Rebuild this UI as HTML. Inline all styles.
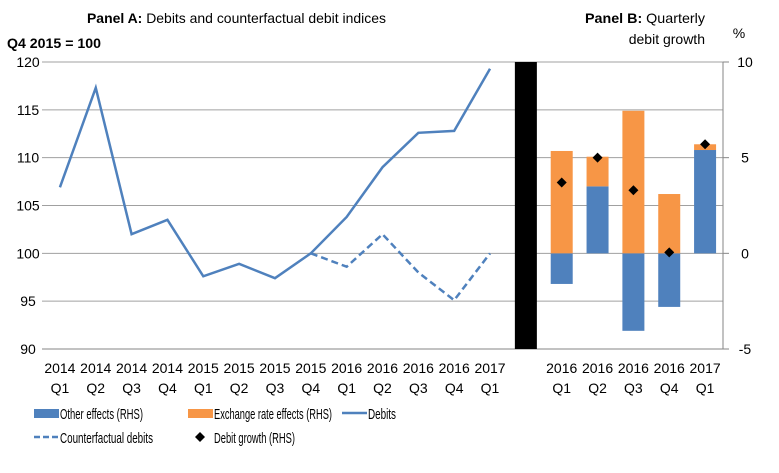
<!DOCTYPE html>
<html><head><meta charset="utf-8"><style>
body{margin:0;background:#fff}
svg text{font-family:"Liberation Sans",sans-serif;fill:#000}
</style></head><body>
<svg id="c" width="779" height="468"></svg>
<script>
const leftCats=[["2014","Q1"],["2014","Q2"],["2014","Q3"],["2014","Q4"],["2015","Q1"],["2015","Q2"],["2015","Q3"],["2015","Q4"],["2016","Q1"],["2016","Q2"],["2016","Q3"],["2016","Q4"],["2017","Q1"]];
const debits=[106.9,117.3,102,103.5,97.6,98.9,97.4,100,103.8,109,112.6,112.8,119.3];
const counterfactual=[null,null,null,null,null,null,null,100,98.6,102,98,95.1,100];
const rightCats=[["2016","Q1"],["2016","Q2"],["2016","Q3"],["2016","Q4"],["2017","Q1"]];
const otherEffects=[-1.6,3.5,-4.05,-2.8,5.4];
const exchangeEffects=[5.35,1.55,7.45,3.1,0.3];
const debitGrowth=[3.7,5.0,3.3,0.05,5.7];
const leftTicks=[90,95,100,105,110,115,120];
const rightTicks=[-5,0,5,10];

const NS="http://www.w3.org/2000/svg";
const svg=document.getElementById('c');
function el(t,a,txt){const e=document.createElementNS(NS,t);for(const k in a)e.setAttribute(k,a[k]);if(txt!=null)e.textContent=txt;svg.appendChild(e);return e;}
const X0=42,X1=723,TOP=62,BOT=349,N=19,slot=(X1-X0)/N;
const xs=i=>X0+slot*(i+0.5);
const yL=v=>BOT-(v-90)/30*(BOT-TOP);
const yR=v=>BOT-(v+5)/15*(BOT-TOP);

leftTicks.forEach(t=>{
 let g=el('line',{x1:X0,x2:X1,y1:yL(t),y2:yL(t),stroke:t===90?'#868686':'#a0a0a0','stroke-width':1});
 
 let l=el('text',{x:28,y:yL(t)+5,'font-size':14,'text-anchor':'middle'},t);
 
});
rightTicks.forEach(t=>{
 let g=el('line',{x1:X1,x2:X1+6,y1:yR(t),y2:yR(t),stroke:'#868686'});
 
 let l=el('text',{x:745,y:yR(t)+5,'font-size':14,'text-anchor':'middle'},t);
 
});
let ax=el('line',{x1:X1,x2:X1,y1:TOP,y2:BOT,stroke:'#868686'});


let sep=el('rect',{x:xs(13)-11,y:TOP,width:22,height:BOT-TOP,fill:'#000'});


const bw=22;
rightCats.forEach((c,i)=>{
 const x=xs(14+i)-bw/2;
 const o=otherEffects[i],e=exchangeEffects[i];
 let r=el('rect',{x:x,y:Math.min(yR(0),yR(o)),width:bw,height:Math.abs(yR(o)-yR(0)),fill:'#4f81bd'});
 
 const base=o>0?o:0;
 let r2=el('rect',{x:x,y:yR(base+e),width:bw,height:yR(base)-yR(base+e),fill:'#f79646'});
 
});
debitGrowth.forEach((v,i)=>{
 const cx=xs(14+i),cy=yR(v);
 let d=el('polygon',{points:`${cx},${cy-5} ${cx+5},${cy} ${cx},${cy+5} ${cx-5},${cy}`,fill:'#000'});
 
});
let p=debits.map((v,i)=>xs(i)+','+yL(v)).join(' ');
let dl=el('polyline',{points:p,fill:'none',stroke:'#4f81bd','stroke-width':2.5});

let cp=counterfactual.map((v,i)=>v==null?null:xs(i)+','+yL(v)).filter(s=>s).join(' ');
let cl=el('polyline',{points:cp,fill:'none',stroke:'#4f81bd','stroke-width':2.5,'stroke-dasharray':'7,4'});


leftCats.concat([null]).concat(rightCats).forEach((c,i)=>{
 if(!c)return;
 let a=el('text',{x:xs(i),y:373,'font-size':14,'text-anchor':'middle'},c[0]);
 
 let b=el('text',{x:xs(i),y:393,'font-size':14,'text-anchor':'middle'},c[1]);
 
});

let t1=el('text',{x:87,y:23,'font-size':14,textLength:299,lengthAdjust:'spacingAndGlyphs'});t1.innerHTML='<tspan font-weight="bold">Panel A:</tspan> Debits and counterfactual debit indices';

let t2=el('text',{x:7,y:48,'font-size':14,'font-weight':'bold',textLength:94,lengthAdjust:'spacingAndGlyphs'},'Q4 2015 = 100');

let t3=el('text',{x:585,y:23,'font-size':14,textLength:120,lengthAdjust:'spacingAndGlyphs'});t3.innerHTML='<tspan font-weight="bold">Panel B:</tspan> Quarterly';

let t4=el('text',{x:705,y:44,'font-size':14,'text-anchor':'end'},'debit growth');

let t5=el('text',{x:739,y:38,'font-size':14,'text-anchor':'middle'},'%');


function leg(name,x,y,label,kind,len){
 let s;
 if(kind==='blue'||kind==='orange')s=el('rect',{x:x,y:y-7,width:25,height:9,fill:kind==='blue'?'#4f81bd':'#f79646'});
 else if(kind==='line')s=el('line',{x1:x,x2:x+25,y1:y-3,y2:y-3,stroke:'#4f81bd','stroke-width':2.5});
 else if(kind==='dash')s=el('line',{x1:x,x2:x+25,y1:y-3,y2:y-3,stroke:'#4f81bd','stroke-width':2.5,'stroke-dasharray':'6,3'});
 else s=el('polygon',{points:`${x+12},${y-8} ${x+17},${y-3} ${x+12},${y+2} ${x+7},${y-3}`,fill:'#000'});
 
 let t=el('text',{x:x+26,y:y+3,'font-size':15,textLength:len,lengthAdjust:'spacingAndGlyphs'},label);
 
}
leg('legend-other-effects',34,416,'Other effects (RHS)','blue',83);
leg('legend-exchange-rate',188,416,'Exchange rate effects (RHS)','orange',118);
leg('legend-debits',342,416,'Debits','line',28);
leg('legend-counterfactual',34,440,'Counterfactual debits','dash',93);
leg('legend-debit-growth',188,440,'Debit growth (RHS)','diamond',81);
</script>
</body></html>
